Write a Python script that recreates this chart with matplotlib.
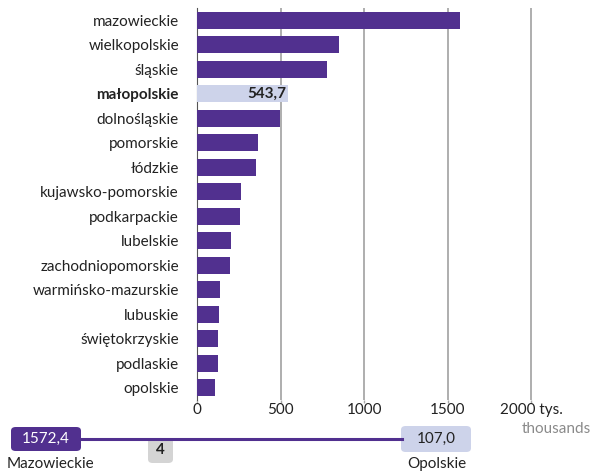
import matplotlib
matplotlib.use('Agg')
import matplotlib.pyplot as plt
from matplotlib.patches import FancyBboxPatch
import numpy as np

plt.rcParams['font.family'] = ['Lato', 'DejaVu Sans']

regions = ['mazowieckie', 'wielkopolskie', 'śląskie', 'małopolskie', 'dolnośląskie',
           'pomorskie', 'łódzkie', 'kujawsko-pomorskie', 'podkarpackie', 'lubelskie',
           'zachodniopomorskie', 'warmińsko-mazurskie', 'lubuskie', 'świętokrzyskie',
           'podlaskie', 'opolskie']
values = [1572.4, 850.0, 779.0, 543.7, 497.0, 365.0, 351.0, 262.0, 257.0, 204.0,
          197.0, 138.0, 131.0, 126.0, 126.0, 107.0]
highlight = 'małopolskie'
ticks = [0, 500, 1000, 1500, 2000]
tick_labels = ['0', '500', '1000', '1500', '2000 tys.']

PURPLE = '#51308f'
LIGHT = '#cdd3ea'
GREY = '#a8a8a8'
TXT = '#222222'
FS = 11
W, H = 592, 471

fig = plt.figure(figsize=(W / 100, H / 100), dpi=100)
ax = fig.add_axes([197 / W, 71 / H, 351 / W, 392 / H])

y = np.arange(len(regions))
colors = [LIGHT if r == highlight else PURPLE for r in regions]
ax.barh(y, values, height=0.69, color=colors, zorder=3)

for t in ticks[1:]:
    ax.axvline(t, color=GREY, lw=1.3, zorder=1)

ax.set_xlim(0, 2100)
ax.set_ylim(len(regions) - 0.5, -0.5)
ax.set_yticks(y)
ax.set_yticklabels(regions, fontsize=FS, color=TXT)
for lab in ax.get_yticklabels():
    if lab.get_text() == highlight:
        lab.set_fontweight('bold')
ax.tick_params(axis='y', length=0, pad=13)
ax.set_xticks(ticks)
ax.set_xticklabels(tick_labels, fontsize=FS, color=TXT)
ax.tick_params(axis='x', length=2, width=1, color=GREY, pad=0)
for s in ['top', 'right', 'bottom']:
    ax.spines[s].set_visible(False)
ax.spines['left'].set_color('#555555')
ax.spines['left'].set_linewidth(0.8)

hi = regions.index(highlight)
ax.text(values[hi] - 8, hi, f"{values[hi]:.1f}".replace('.', ','), ha='right', va='center',
        fontsize=FS, fontweight='bold', color=TXT, zorder=4)

fig.text(591 / W, 1 - 429 / H, 'thousands', ha='right', va='center', fontsize=FS, color='#8a8a8a')

# range strip at the bottom
def px(x, yy):
    return x / W, 1 - yy / H

imax, imin = int(np.argmax(values)), int(np.argmin(values))
rank = sorted(values, reverse=True).index(values[hi]) + 1

fig.add_artist(plt.Line2D([80 / W, 402 / W], [1 - 438.5 / H] * 2, color=PURPLE, lw=2.2))
for (x0, y0, x1, y1, fc) in [(11, 427, 81, 451, PURPLE), (401, 426, 471, 452, LIGHT), (148, 438, 173, 463, '#d4d4d4')]:
    fig.add_artist(FancyBboxPatch((x0 / W, 1 - y1 / H), (x1 - x0) / W, (y1 - y0) / H,
                                  boxstyle='round,pad=0,rounding_size=0.008', fc=fc, ec='none',
                                  transform=fig.transFigure))
fig.text(*px(46, 439), f"{values[imax]:.1f}".replace('.', ','), ha='center', va='center', fontsize=FS, color='white')
fig.text(*px(436, 439), f"{values[imin]:.1f}".replace('.', ','), ha='center', va='center', fontsize=FS, color=TXT)
fig.text(*px(160.5, 450.5), str(rank), ha='center', va='center', fontsize=FS, fontweight='bold', color=TXT)
fig.text(*px(50, 464), regions[imax].capitalize(), ha='center', va='center', fontsize=FS, color=TXT)
fig.text(*px(437, 464), regions[imin].capitalize(), ha='center', va='center', fontsize=FS, color=TXT)

fig.savefig('out.png', dpi=100)
